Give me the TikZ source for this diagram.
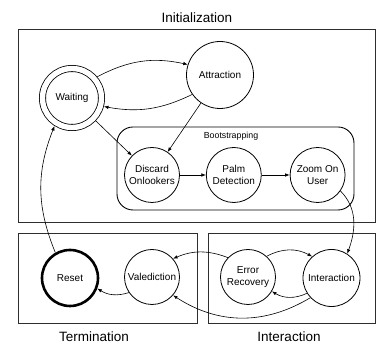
\documentclass[tikz,border=0pt]{standalone}
\usepackage{fontspec}
\setmainfont{Liberation Sans}
\usetikzlibrary{arrows.meta,positioning}
\definecolor{frame}{HTML}{2E2E2E}
\tikzset{
  state/.style ={circle,draw=black,line width=0.8pt,minimum size=55pt,inner sep=0pt,
                 align=center,font=\fontsize{10}{12.5}\selectfont},
  home/.style  ={state,double,double distance=5.4pt,minimum size=59pt,outer sep=3.6pt},
  final/.style ={state,line width=2.6pt,minimum size=56pt},
  phase/.style ={draw=frame,line width=0.9pt},
  title/.style ={font=\fontsize{13.5}{16}\selectfont},
  trans/.style ={-{Latex[length=4.5pt,width=3.5pt]},line width=0.6pt}
}

\begin{document}
\begin{tikzpicture}[x=1pt,y=1pt,node distance=26pt]
  \useasboundingbox (0,0) rectangle (376,345);

  % phases
  \draw[phase] (18,316) rectangle (375,123);
  \draw[phase] (18,112) rectangle (197,22);
  \draw[phase] (208,112) rectangle (375,22);
  \draw[phase,draw=black,rounded corners=16pt] (117,218) rectangle (354,135);
  \node[title] (tinit) at (197,327) {Initialization};
  \node[title] (tterm) at (94,8) {Termination};
  \node[title] (tint) at (289,8) {Interaction};
  \node[font=\fontsize{8.8}{10}\selectfont] (tboot) at (231,209) {Bootstrapping};

  % states
  \node[home] (wait) at (72,247) {Waiting};
  \node[state,minimum size=67pt] (attr) at (220,270) {Attraction};
  \node[state] (disc) at (152,170) {Discard\\Onlookers};
  \node[state,right=of disc] (palm) {Palm\\Detection};
  \node[state,right=28pt of palm] (zoom) {Zoom On\\User};
  \node[final] (reset) at (70,67) {Reset};
  \node[state] (val) at (152,68) {Valediction};
  \node[state] (err) at (248,68) {Error\\Recovery};
  \node[state,minimum size=57pt] (inter) at (331.5,67) {Interaction};

  % transitions
  \draw[trans] (wait.40) to[bend left=20] (attr.162);
  \draw[trans] (attr.215) to[bend left=18] (wait.-15);
  \draw[trans] (wait) -- (disc);
  \draw[trans] (attr) -- (disc);
  \draw[trans] (disc) -- (palm);
  \draw[trans] (palm) -- (zoom);
  \draw[trans] (zoom.-35) to[out=-45,in=70] (inter.57);
  \draw[trans] (err.48) to[bend left=28] (inter.132);
  \draw[trans] (inter.212) to[bend left=28] (err.-31);
  \draw[trans] (err.136) to[bend right=22] (val.41);
  \draw[trans] (inter.223) to[bend left=32] (val.-41);
  \draw[trans] (val.214) to[bend left=25] (reset.-21);
  \draw[trans] (reset.120) to[bend left=22] (wait.238);
\end{tikzpicture}
\end{document}
